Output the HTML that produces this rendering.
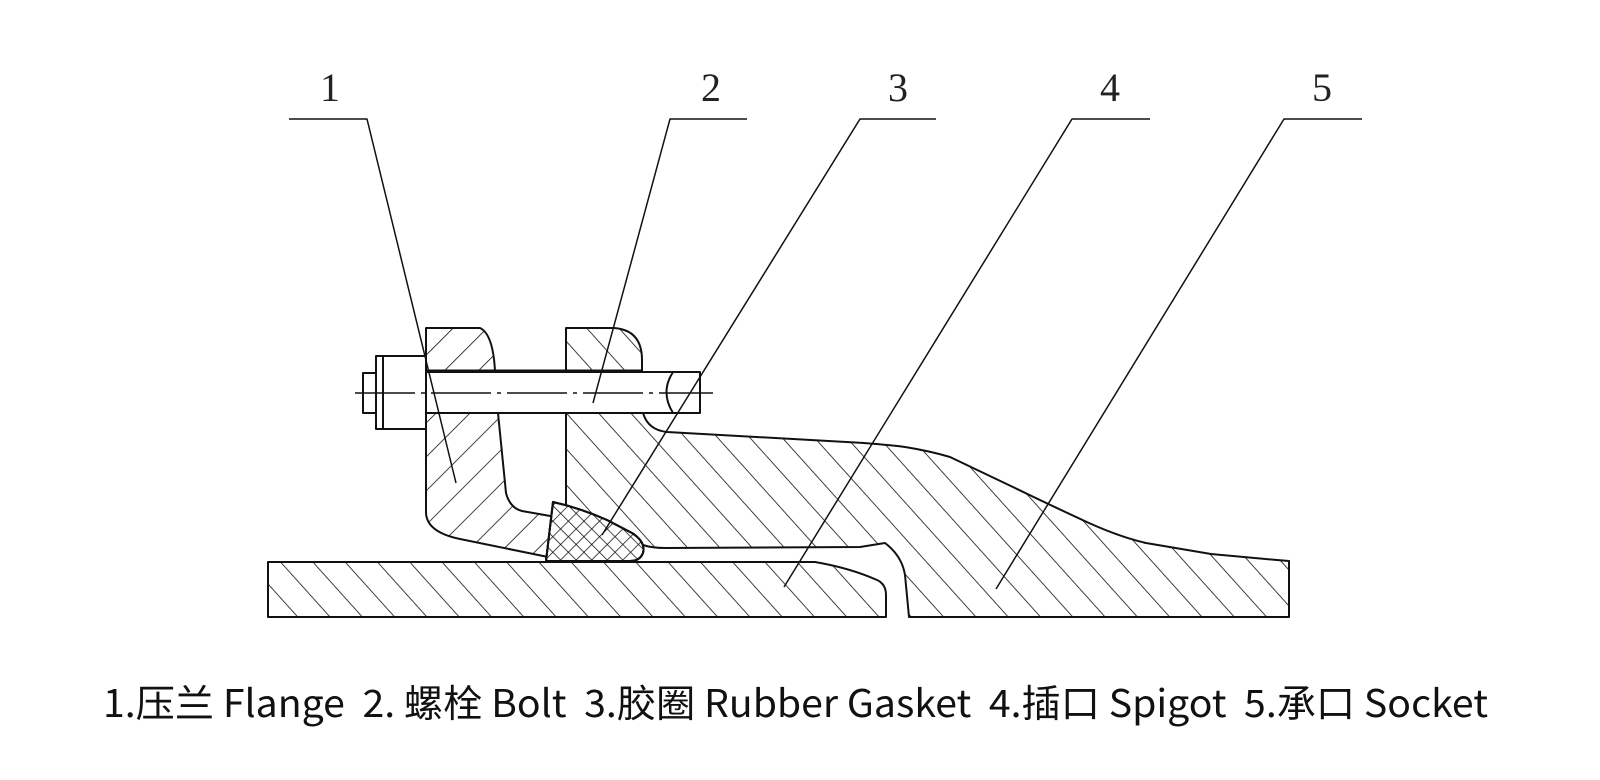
<!DOCTYPE html>
<html><head><meta charset="utf-8"><style>
html,body{margin:0;padding:0;background:#fff;}
svg{display:block;}
</style></head><body>
<svg width="1600" height="780" viewBox="0 0 1600 780" xmlns="http://www.w3.org/2000/svg">
<defs>
<pattern id="hf" patternUnits="userSpaceOnUse" width="24" height="24" patternTransform="rotate(45)">
<line x1="0" y1="0" x2="0" y2="24" stroke="#111" stroke-width="1.6"/></pattern>
<pattern id="hs" patternUnits="userSpaceOnUse" width="24" height="24" patternTransform="rotate(-42)">
<line x1="0" y1="0" x2="0" y2="24" stroke="#111" stroke-width="1.6"/></pattern>
<pattern id="hg1" patternUnits="userSpaceOnUse" width="11" height="11" patternTransform="rotate(45)">
<line x1="0" y1="0" x2="0" y2="11" stroke="#111" stroke-width="1.5"/></pattern>
<pattern id="hg2" patternUnits="userSpaceOnUse" width="11" height="11" patternTransform="rotate(-45)">
<line x1="0" y1="0" x2="0" y2="11" stroke="#111" stroke-width="1.5"/></pattern>
</defs>
<g stroke="#111" stroke-width="2" fill="none" stroke-linejoin="round">
<!-- spigot -->
<path d="M268,562 L815,562 Q850,568 877,580 Q886,584 886,595 L886,617 L268,617 Z" fill="url(#hs)"/>
<!-- socket body -->
<path d="M566,413 L643,413 Q648,430 667,432 L864,443 Q890,445 905,447 Q930,451 950,457 L1015,488 Q1050,505 1089,523 Q1120,537 1146,543 L1211,554 L1277,560 L1289,561 L1289,617 L909,617 L905,575 Q902,556 885,543 L860,547 L665,548 Q652,548 643,545 L610,522 L566,505 Z" fill="url(#hs)"/>
<!-- socket lug -->
<path d="M566,328 L614,328 Q642,330 642,360 L642,371 L566,371 Z" fill="url(#hs)"/>
<!-- flange -->
<path d="M426,328 L480,328 Q493,334 495,371 L498,413 L506,493 Q510,508 522,511 L556,517 L548,557 L460,539 Q426,532 426,512 Z" fill="url(#hf)"/>
<!-- gasket -->
<path d="M553,502 Q580,508 607,520 L632,533 Q646,542 643,553 Q640,561 630,561 L546,561 Z" fill="#fff"/>
<path d="M553,502 Q580,508 607,520 L632,533 Q646,542 643,553 Q640,561 630,561 L546,561 Z" fill="url(#hg1)"/>
<path d="M553,502 Q580,508 607,520 L632,533 Q646,542 643,553 Q640,561 630,561 L546,561 Z" fill="url(#hg2)"/>
<!-- bolt -->
<rect x="426" y="372" width="274" height="41" fill="#fff"/>
<path d="M673,372 Q660,392 673,413"/>
<rect x="376" y="356" width="50" height="73" fill="#fff"/>
<rect x="363" y="373" width="13" height="40" fill="#fff"/>
<line x1="383" y1="356" x2="383" y2="429"/>
<line x1="426" y1="371" x2="566" y2="371" stroke-width="3"/>
<line x1="566" y1="371" x2="642" y2="371" stroke-width="3"/>
<line x1="355" y1="393" x2="713" y2="393" stroke-width="1.5" stroke-dasharray="60,6,4,6"/>
<!-- leaders -->
<g stroke-width="1.5">
<polyline points="289,119 367,119 456,483"/>
<polyline points="747,119 670,119 593,403"/>
<polyline points="936,119 860,119 602,535"/>
<polyline points="1150,119 1072,119 784,587"/>
<polyline points="1362,119 1284,119 996,589"/>
</g>
</g>
<g font-family="Liberation Serif, serif" font-size="40" fill="#222" text-anchor="middle">
<text x="330" y="101">1</text>
<text x="711" y="101">2</text>
<text x="898" y="101">3</text>
<text x="1110" y="101">4</text>
<text x="1322" y="101">5</text>
</g>
<text x="103" y="717" style="white-space:pre" xml:space="preserve" font-family="'Noto Sans CJK SC', 'Liberation Sans', sans-serif" font-size="38" fill="#111" textLength="1385" lengthAdjust="spacingAndGlyphs">1.压兰 Flange  2. 螺栓 Bolt  3.胶圈 Rubber Gasket  4.插口 Spigot  5.承口 Socket</text>
</svg>
</body></html>
